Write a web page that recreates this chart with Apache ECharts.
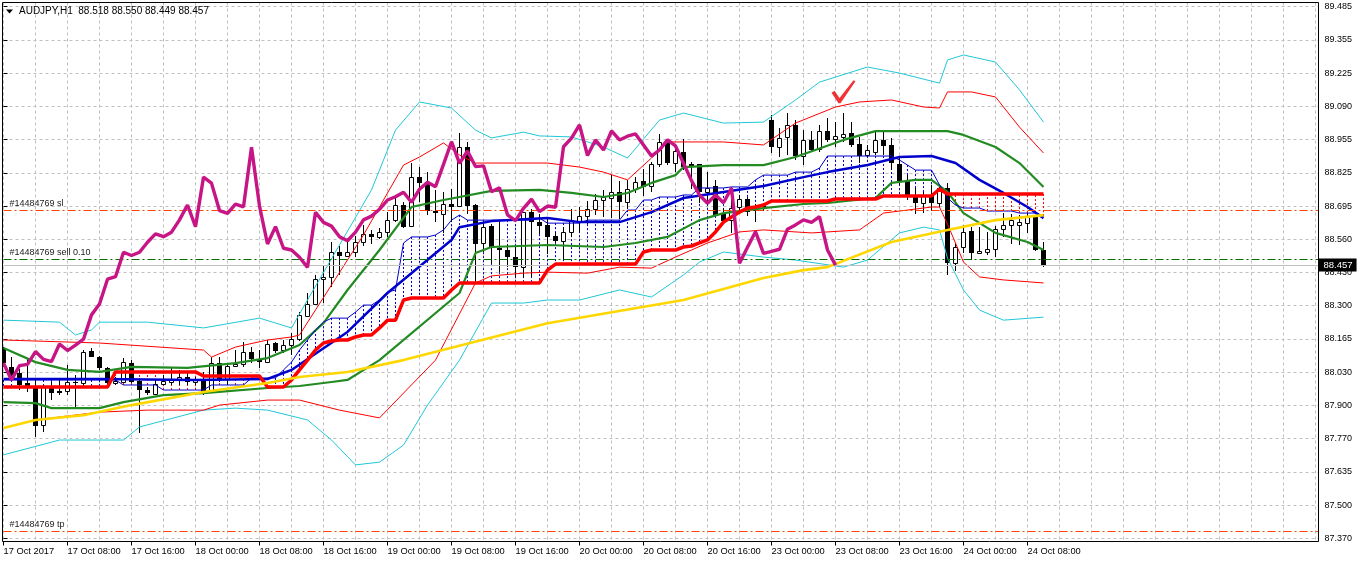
<!DOCTYPE html>
<html><head><meta charset="utf-8">
<script src="https://cdn.jsdelivr.net/npm/echarts@6/dist/echarts.min.js"></script>
<style>html,body{margin:0;padding:0;background:#fff}#c{width:1358px;height:562px}</style>
</head><body><div id="c"></div><script>
// ---------- data ----------
const symbolTitle = 'AUDJPY,H1  88.518 88.550 88.449 88.457';
const xTickLabels = ['17 Oct 2017','17 Oct 08:00','17 Oct 16:00','18 Oct 00:00','18 Oct 08:00','18 Oct 16:00','19 Oct 00:00','19 Oct 08:00','19 Oct 16:00','20 Oct 00:00','20 Oct 08:00','20 Oct 16:00','23 Oct 00:00','23 Oct 08:00','23 Oct 16:00','24 Oct 00:00','24 Oct 08:00'];
const yTickLabels = ['87.370','87.500','87.635','87.770','87.900','88.030','88.165','88.300','88.430','88.560','88.695','88.825','88.955','89.090','89.225','89.355','89.485'];

const opens = [88.123,88.053,88.027,87.987,87.973,87.821,87.973,87.955,87.958,87.993,
87.987,88.115,88.093,88.047,87.987,87.993,88.069,87.996,87.960,87.944,
87.984,87.993,88.003,88.013,87.993,88.003,87.957,88.067,88.003,88.057,
88.062,88.110,88.082,88.073,88.146,88.119,88.139,88.162,88.256,88.302,
88.401,88.409,88.508,88.495,88.508,88.548,88.581,88.570,88.590,88.637,
88.696,88.614,88.807,88.789,88.674,88.660,88.700,88.692,88.926,88.696,
88.544,88.613,88.524,88.517,88.491,88.448,88.667,88.627,88.615,88.573,
88.554,88.588,88.634,88.652,88.679,88.716,88.725,88.747,88.709,88.759,
88.792,88.772,88.858,88.948,88.862,88.908,88.859,88.859,88.749,88.772,
88.660,88.637,88.687,88.719,88.676,88.692,89.035,88.928,88.966,89.015,
88.893,88.955,88.918,88.991,88.958,88.968,88.982,88.939,88.895,88.908,
88.955,88.935,88.859,88.796,88.736,88.703,88.736,88.705,88.763,88.464,
88.528,88.594,88.504,88.510,88.520,88.600,88.615,88.615,88.626,88.650,
88.518];
const highs = [88.130,88.093,88.043,88.082,88.000,87.980,87.993,88.000,88.060,88.020,
88.119,88.126,88.096,88.053,88.013,88.086,88.080,88.007,87.973,88.000,
88.020,88.053,88.040,88.033,88.010,88.033,88.093,88.093,88.067,88.119,
88.153,88.133,88.119,88.159,88.153,88.159,88.186,88.270,88.345,88.418,
88.458,88.550,88.532,88.564,88.571,88.617,88.597,88.603,88.670,88.729,
88.708,88.862,88.849,88.828,88.754,88.749,88.760,88.982,88.945,88.700,
88.630,88.620,88.630,88.540,88.530,88.670,88.680,88.660,88.640,88.590,
88.610,88.680,88.690,88.712,88.740,88.756,88.815,88.790,88.795,88.806,
88.840,88.867,88.977,88.955,88.935,88.959,88.869,88.859,88.826,88.795,
88.685,88.763,88.737,88.727,88.700,88.698,89.054,89.001,89.061,89.035,
88.994,88.992,89.014,89.041,89.027,89.061,89.027,88.968,88.935,88.988,
88.994,88.962,88.888,88.815,88.763,88.749,88.776,88.776,88.782,88.546,
88.616,88.610,88.607,88.590,88.612,88.663,88.660,88.656,88.663,88.656,
88.550];
const lows = [88.050,88.000,87.960,87.953,87.772,87.794,87.920,87.940,87.940,87.887,
87.980,88.090,88.040,87.980,87.980,87.987,87.987,87.788,87.940,87.940,
87.980,87.980,87.980,87.980,87.980,87.940,87.953,87.993,87.980,88.053,
88.053,88.066,88.046,88.066,88.107,88.107,88.100,88.155,88.250,88.300,
88.306,88.371,88.417,88.490,88.490,88.533,88.541,88.560,88.568,88.630,
88.604,88.610,88.709,88.656,88.629,88.584,88.630,88.690,88.660,88.385,
88.510,88.460,88.430,88.450,88.410,88.410,88.410,88.580,88.500,88.545,
88.477,88.570,88.590,88.620,88.655,88.650,88.643,88.640,88.680,88.745,
88.733,88.747,88.849,88.855,88.826,88.834,88.760,88.703,88.707,88.656,
88.629,88.584,88.670,88.654,88.627,88.674,88.902,88.888,88.895,88.875,
88.854,88.908,88.908,88.948,88.928,88.948,88.928,88.862,88.888,88.895,
88.895,88.835,88.776,88.716,88.660,88.664,88.674,88.690,88.418,88.434,
88.504,88.477,88.500,88.497,88.490,88.570,88.540,88.537,88.586,88.514,
88.449];
const closes = [88.067,88.020,87.980,87.970,87.817,87.973,87.947,87.947,87.991,87.987,
88.113,88.093,88.047,87.987,87.995,88.073,87.993,87.960,87.947,87.983,
87.995,88.003,88.013,87.993,88.000,87.953,88.067,88.000,88.057,88.062,
88.113,88.082,88.073,88.143,88.117,88.139,88.162,88.259,88.302,88.401,
88.411,88.508,88.495,88.508,88.548,88.581,88.570,88.588,88.637,88.696,
88.610,88.807,88.783,88.674,88.663,88.700,88.689,88.926,88.692,88.541,
88.610,88.524,88.517,88.488,88.448,88.667,88.627,88.612,88.570,88.554,
88.588,88.637,88.652,88.679,88.716,88.729,88.747,88.707,88.759,88.787,
88.769,88.858,88.948,88.862,88.911,88.849,88.852,88.749,88.765,88.657,
88.634,88.683,88.719,88.670,88.692,88.687,88.928,88.962,89.015,88.893,
88.955,88.915,88.991,88.955,88.970,88.979,88.935,88.891,88.915,88.955,
88.931,88.862,88.793,88.736,88.703,88.736,88.705,88.763,88.464,88.528,
88.590,88.504,88.512,88.520,88.600,88.617,88.637,88.627,88.650,88.517,
88.457];

// Bollinger-type envelope lines, [bar index, price]
const bbUpper3 = [[0,88.238],[7,88.230],[9,88.179],[11,88.199],[12,88.230],[18,88.230],[25,88.207],[32,88.246],[36,88.207],[38,88.318],[42,88.537],[46,88.756],[49,88.994],[52,89.106],[56,89.082],[59,88.994],[61,88.963],[65,88.986],[67,88.971],[71,88.967],[75,88.927],[78,88.883],[82,89.034],[85,89.062],[90,89.022],[95,89.026],[99,89.114],[102,89.185],[108,89.245],[112,89.221],[117,89.181],[118,89.273],[120,89.293],[124,89.265],[127,89.154],[130,89.026]];
const bbUpper2 = [[0,88.159],[12,88.147],[25,88.119],[26,88.091],[29,88.131],[33,88.159],[36,88.171],[37,88.179],[45,88.577],[50,88.855],[52,88.887],[55,88.943],[57,88.895],[59,88.863],[68,88.863],[72,88.847],[75,88.827],[78,88.796],[81,88.883],[83,88.947],[90,88.947],[95,88.935],[99,89.022],[104,89.086],[107,89.106],[111,89.114],[115,89.086],[117,89.082],[118,89.146],[121,89.146],[124,89.126],[127,89.006],[130,88.903]];
const bbUpper1 = [[0,88.127],[4,88.071],[8,88.040],[12,88.032],[16,88.052],[23,88.048],[29,88.067],[33,88.087],[37,88.139],[40,88.226],[43,88.358],[47,88.517],[51,88.688],[55,88.716],[57,88.728],[61,88.752],[67,88.756],[71,88.744],[75,88.728],[78,88.744],[81,88.784],[84,88.815],[85,88.847],[90,88.855],[95,88.855],[99,88.887],[105,88.955],[109,88.990],[118,88.990],[120,88.975],[124,88.927],[127,88.863],[130,88.768]];
const bbMiddle = [[0,88.004],[12,88.004],[24,88.000],[33,88.004],[36,88.040],[43,88.191],[48,88.346],[56,88.557],[57,88.608],[61,88.632],[68,88.644],[72,88.628],[77,88.628],[81,88.668],[85,88.724],[90,88.748],[95,88.772],[100,88.807],[103,88.827],[108,88.855],[112,88.887],[116,88.891],[119,88.863],[122,88.796],[125,88.744],[128,88.688],[130,88.644]];
const bbLower1 = [[0,87.912],[4,87.908],[6,87.888],[12,87.888],[15,87.912],[20,87.940],[25,87.948],[33,87.968],[37,87.976],[41,87.992],[43,88.000],[47,88.079],[57,88.346],[59,88.505],[61,88.529],[68,88.537],[75,88.529],[79,88.545],[83,88.569],[87,88.636],[90,88.664],[95,88.684],[100,88.700],[103,88.704],[109,88.724],[111,88.784],[114,88.796],[116,88.796],[118,88.748],[120,88.664],[124,88.585],[128,88.549],[130,88.517]];
const bbLower2 = [[0,87.809],[4,87.841],[12,87.872],[18,87.880],[25,87.880],[27,87.900],[33,87.920],[37,87.920],[42,87.880],[47,87.849],[54,88.079],[59,88.386],[61,88.414],[65,88.425],[68,88.429],[73,88.425],[77,88.449],[81,88.445],[84,88.489],[88,88.545],[92,88.589],[95,88.597],[101,88.585],[107,88.597],[110,88.664],[113,88.676],[116,88.688],[117,88.688],[118,88.620],[120,88.469],[122,88.410],[125,88.398],[130,88.386]];
const bbLower3 = [[0,87.702],[7,87.761],[15,87.761],[17,87.813],[25,87.880],[29,87.888],[33,87.880],[38,87.841],[41,87.761],[44,87.662],[47,87.673],[50,87.741],[53,87.900],[57,88.079],[61,88.306],[65,88.306],[68,88.318],[72,88.318],[77,88.358],[81,88.330],[85,88.418],[87,88.469],[90,88.509],[95,88.489],[99,88.477],[105,88.449],[108,88.477],[112,88.585],[115,88.608],[117,88.597],[118,88.485],[120,88.358],[122,88.278],[125,88.238],[130,88.250]];
const maSlow = [[0,87.809],[4,87.841],[10,87.860],[16,87.900],[25,87.952],[33,87.988],[37,88.012],[43,88.032],[50,88.079],[68,88.226],[85,88.318],[95,88.406],[100,88.437],[103,88.449],[111,88.549],[118,88.597],[124,88.636],[130,88.656]];

// cloud spans, one value per bar
const spanA = [88.000,88.000,88.000,88.000,88.000,88.000,88.000,88.000,88.000,88.000,
88.000,88.000,88.000,88.000,88.000,87.980,87.980,87.980,87.980,87.980,
87.960,87.960,87.960,87.960,87.960,87.960,87.980,87.980,87.980,87.980,
87.980,88.008,88.008,88.008,88.008,88.040,88.071,88.119,88.159,88.199,
88.230,88.246,88.246,88.246,88.270,88.298,88.298,88.318,88.350,88.358,
88.545,88.569,88.569,88.569,88.577,88.597,88.636,88.656,88.636,88.636,
88.636,88.636,88.636,88.636,88.636,88.636,88.636,88.644,88.624,88.624,
88.624,88.624,88.624,88.636,88.636,88.636,88.636,88.636,88.676,88.676,
88.716,88.716,88.728,88.728,88.728,88.736,88.736,88.764,88.764,88.764,
88.764,88.768,88.768,88.768,88.796,88.815,88.815,88.815,88.815,88.827,
88.827,88.827,88.843,88.891,88.891,88.891,88.891,88.891,88.891,88.891,
88.891,88.891,88.875,88.855,88.835,88.835,88.835,88.776,88.724,88.696,
88.684,88.684,88.684,88.672,88.672,88.672,88.672,88.664,88.664,88.664,
88.652];
const spanB = [87.972,87.972,87.972,87.972,87.972,87.972,87.972,87.972,87.972,87.972,
87.972,87.972,87.972,87.972,88.032,88.032,88.032,88.032,88.032,88.032,
88.032,88.032,88.032,88.032,88.032,88.016,88.016,88.016,88.016,88.016,
88.016,88.016,88.016,87.972,87.972,87.972,88.000,88.040,88.079,88.119,
88.147,88.155,88.159,88.159,88.171,88.179,88.179,88.207,88.238,88.238,
88.318,88.326,88.326,88.326,88.326,88.326,88.358,88.386,88.386,88.386,
88.386,88.386,88.386,88.386,88.386,88.386,88.386,88.386,88.437,88.461,
88.461,88.461,88.461,88.461,88.461,88.461,88.461,88.461,88.461,88.461,
88.509,88.517,88.517,88.517,88.517,88.529,88.533,88.545,88.557,88.589,
88.628,88.648,88.668,88.684,88.688,88.696,88.712,88.712,88.712,88.712,
88.712,88.712,88.712,88.712,88.720,88.720,88.720,88.720,88.720,88.720,
88.732,88.732,88.732,88.732,88.732,88.732,88.732,88.760,88.740,88.740,
88.740,88.740,88.740,88.740,88.740,88.740,88.740,88.740,88.740,88.740,
88.740];

const chikouShift = 26;
const bidPrice = 88.457;
const slPrice = 88.675, sellPrice = 88.480, tpPrice = 87.399;
const orderLabels = ['#14484769 sl', '#14484769 sell 0.10', '#14484769 tp'];
const checkMark = [105, 89.147];

// ---------- chart ----------
const chart = echarts.init(document.getElementById('c'), null, {renderer: 'canvas', width: 1358, height: 562});
const candleData = closes.map((c, i) => [i, opens[i], highs[i], lows[i], c]);
const chikou = closes.slice(chikouShift).map((c, k) => [k, c]);
const cloud = spanA.map((a, i) => [i, a, spanB[i]]);
const tickIdx = xTickLabels.map((_, k) => k * 8);
const FONT = '"Liberation Sans", Arial, sans-serif';

function lineSeries(name, data, color, width, z) {
  return {name, type: 'line', xAxisIndex: 0, yAxisIndex: 0, data, showSymbol: false, symbol: 'none',
    clip: true, silent: true, animation: false, lineStyle: {color, width}, z};
}

const option = {
  animation: false,
  backgroundColor: '#ffffff',
  textStyle: {fontFamily: FONT},
  grid: [
    {left: 3.5, top: 2.5, width: 1315, height: 539, show: false},
    {left: 2.5, top: 2.5, width: 1316, height: 539, show: true, borderColor: '#000', borderWidth: 1, backgroundColor: 'transparent', z: 10},
    {left: 3.5, top: 6.67, width: 1315, height: 531.66, show: false}
  ],
  xAxis: [
    {gridIndex: 0, type: 'value', min: 0, max: 164.375, interval: 8,
      axisLine: {show: false},
      axisTick: {show: true, length: 4, customValues: tickIdx, lineStyle: {color: '#000'}},
      axisLabel: {show: true, customValues: tickIdx, align: 'left', margin: 5, fontSize: 9.3, color: '#000', fontFamily: FONT,
        showMinLabel: true, showMaxLabel: true, hideOverlap: false,
        formatter: v => (v % 8 === 0 && xTickLabels[v / 8]) ? xTickLabels[v / 8] : ''},
      splitLine: {show: false}},
    {gridIndex: 0, type: 'value', min: 0, max: 164.375, interval: 4,
      axisLine: {show: false}, axisTick: {show: false}, axisLabel: {show: false},
      splitLine: {show: true, lineStyle: {color: '#c0c0c0', type: [3, 3], width: 1}}},
    {gridIndex: 1, type: 'value', min: 0, max: 1, show: false},
    {gridIndex: 2, type: 'value', min: 0, max: 1, show: false}
  ],
  yAxis: [
    {gridIndex: 0, type: 'value', min: 87.3573, max: 89.5018, show: false, splitLine: {show: false}},
    {gridIndex: 1, type: 'value', min: 0, max: 1, show: false},
    {gridIndex: 2, type: 'value', min: 0, max: 16, interval: 1, position: 'right',
      axisLine: {show: false},
      axisTick: {show: true, length: 4, lineStyle: {color: '#000'}},
      axisLabel: {margin: 6, fontSize: 9, color: '#000', fontFamily: FONT, formatter: v => yTickLabels[v] || ''},
      splitLine: {show: true, lineStyle: {color: '#c0c0c0', type: [3, 3], width: 1}}}
  ],
  graphic: [
    {type: 'polygon', shape: {points: [[6, 9.5], [13, 9.5], [9.5, 13.5]]}, style: {fill: '#000'}, z: 100},
    {type: 'text', x: 19, y: 11.5, style: {text: symbolTitle, font: '10px ' + FONT, fill: '#000', verticalAlign: 'middle'}, z: 100}
  ],
  series: [
    {name: 'cloud', type: 'custom', xAxisIndex: 0, yAxisIndex: 0, data: cloud, clip: true, silent: true, z: 1,
      encode: {x: 0, y: [1, 2]},
      renderItem: (params, api) => {
        const i = api.value(0), a = api.value(1), b = api.value(2);
        const pa = api.coord([i, a]), pb = api.coord([i, b]);
        return {type: 'line', shape: {x1: pa[0], y1: pa[1], x2: pb[0], y2: pb[1]},
          style: {stroke: a >= b ? '#0000cd' : '#ff0000', lineWidth: 1, lineDash: [2, 2]}};
      }},
    {name: 'price', type: 'custom', xAxisIndex: 0, yAxisIndex: 0, data: candleData, clip: true, silent: true, z: 2,
      encode: {x: 0, y: [1, 2, 3, 4]},
      renderItem: (params, api) => {
        const i = api.value(0), o = api.value(1), h = api.value(2), l = api.value(3), c = api.value(4);
        const pO = api.coord([i, o]), pC = api.coord([i, c]), pH = api.coord([i, h]), pL = api.coord([i, l]);
        const x = Math.round(pO[0] - 0.5) + 0.5;
        const top = Math.round(Math.min(pO[1], pC[1])), bot = Math.round(Math.max(pO[1], pC[1]));
        const kids = [{type: 'line', shape: {x1: x, y1: Math.round(pH[1]), x2: x, y2: Math.round(pL[1])}, style: {stroke: '#000', lineWidth: 1}}];
        if (c >= o) {
          kids.push({type: 'rect', shape: {x: x - 2, y: top + 0.5, width: 4, height: Math.max(0, bot - top)}, style: {fill: '#fff', stroke: '#000', lineWidth: 1}});
        } else {
          kids.push({type: 'rect', shape: {x: x - 2.5, y: top, width: 5, height: Math.max(1, bot - top)}, style: {fill: '#000'}});
        }
        return {type: 'group', children: kids};
      }},
    lineSeries('bbUpper3', bbUpper3, '#20c8d8', 1, 3),
    lineSeries('bbLower3', bbLower3, '#20c8d8', 1, 3),
    lineSeries('bbUpper2', bbUpper2, '#ff0000', 1, 3),
    lineSeries('bbLower2', bbLower2, '#ff0000', 1, 3),
    lineSeries('bbUpper1', bbUpper1, '#228b22', 2.2, 3),
    lineSeries('bbLower1', bbLower1, '#228b22', 2.2, 3),
    lineSeries('spanA', spanA.map((a, i) => [i, a]), '#0000cd', 1, 4),
    lineSeries('bbMiddle', bbMiddle, '#0000cd', 2.5, 4),
    lineSeries('spanB', spanB.map((b, i) => [i, b]), '#ff0000', 3.5, 5),
    Object.assign(lineSeries('maSlow', maSlow, '#ffd700', 2.6, 5), {
      markLine: {silent: true, symbol: ['none', 'none'], animation: false, precision: 3,
        data: [
          {yAxis: bidPrice, lineStyle: {color: '#c0c0c0', type: 'solid', width: 1},
            label: {show: true, position: 'end', distance: 0, formatter: bidPrice.toFixed(3), color: '#fff', backgroundColor: '#000',
              padding: [2, 4, 1, 5], fontSize: 9.5, fontFamily: FONT}},
          {yAxis: slPrice, lineStyle: {color: '#ff4500', type: [8, 3, 2, 3], width: 1},
            label: {show: true, position: 'insideStartTop', distance: 2, formatter: orderLabels[0], color: '#222', fontSize: 9, fontFamily: FONT, padding: [0, 0, 0, 4]}},
          {yAxis: sellPrice, lineStyle: {color: '#007000', type: [8, 3, 2, 3], width: 1},
            label: {show: true, position: 'insideStartTop', distance: 2, formatter: orderLabels[1], color: '#222', fontSize: 9, fontFamily: FONT, padding: [0, 0, 0, 4]}},
          {yAxis: tpPrice, lineStyle: {color: '#ff4500', type: [8, 3, 2, 3], width: 1},
            label: {show: true, position: 'insideStartTop', distance: 2, formatter: orderLabels[2], color: '#222', fontSize: 9, fontFamily: FONT, padding: [0, 0, 0, 4]}}
        ]}}),
    lineSeries('chikou', chikou, '#c71585', 3.4, 6),
    {name: 'mark', type: 'scatter', xAxisIndex: 0, yAxisIndex: 0, data: [checkMark], silent: true, z: 7,
      symbol: 'path://M0,12 L3,10 L8,17 L22,0 L24,1 L9,22 L7,22 Z', symbolSize: [24, 23], itemStyle: {color: '#ee0000'}}
  ]
};
chart.setOption(option);
</script></body></html>
